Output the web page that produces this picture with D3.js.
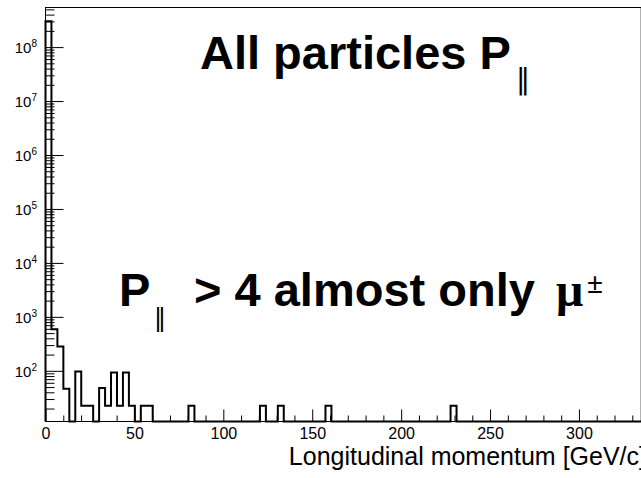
<!DOCTYPE html>
<html lang="en">
  <head>
    <meta charset="utf-8">
    <title>Longitudinal momentum</title>
    <style>
      body { margin: 0; background: #fff; }
      svg { display: block; font-family: "Liberation Sans", Arial, sans-serif; }
      .tick line { stroke: #000; }
    </style>
  </head>
  <body>
    <script src="https://d3js.org/d3.v7.min.js"></script>
    <script type="text/javascript">

    // histogram: 100 bins from 0 to 335 GeV/c
    const nBins = 100
    const xMin = 0
    const xMax = 335
    // bins that have entries (index) and their contents
    const filledBins = [0, 1, 2, 3, 5, 6, 7, 9, 10, 11, 12, 13, 14, 16, 17, 24, 36, 39, 47, 68]
    const binContent = [3.0e8, 590, 282, 46.5, 97, 22.5, 22.5, 47.8, 22.5, 93, 22.5, 93, 22.5, 22.5, 22.5, 22.5, 22.5, 22.5, 22.5, 22.5]

    const yMin = 11.5
    const yMax = 5.42e8
    const yDecades = [2, 3, 4, 5, 6, 7, 8]
    const xTicks = [0, 50, 100, 150, 200, 250, 300]

    const w = 641
    const h = 478
    const padL = 45.5
    const padR = 641.2
    const padT = 7.5
    const padB = 421.5

    const xScale = d3.scaleLinear().domain([xMin, xMax]).range([padL, padR])
    const yScale = d3.scaleLog().domain([yMin, yMax]).range([padB, padT])

    const svg = d3.select("body").append("svg")
      .attr("width", w)
      .attr("height", h)

    // all bins, empty ones sit on the floor
    const binW = (xMax - xMin) / nBins
    const bins = d3.range(nBins).map(i => {
      const k = filledBins.indexOf(i)
      return { x: xMin + i * binW, v: k >= 0 ? binContent[k] : 0 }
    })
    const pts = [{ x: xMin, v: 0 }].concat(bins, [{ x: xMax, v: 0 }])

    const line = d3.line()
      .x(d => xScale(d.x))
      .y(d => d.v > 0 ? yScale(d.v) : padB)
      .curve(d3.curveStepAfter)

    // y minor ticks (2..9 x 10^n)
    const yMinor = yScale.ticks().filter(v => Math.abs(Math.log10(v) - Math.round(Math.log10(v))) > 1e-6)
    svg.append("g")
      .attr("transform", `translate(${padL},0)`)
      .call(d3.axisLeft(yScale).tickValues(yMinor).tickSize(-9).tickFormat(""))
      .call(g => g.select(".domain").remove())

    svg.append("g")
      .attr("transform", `translate(${padL},0)`)
      .call(d3.axisLeft(yScale).tickValues(yDecades.map(d => Math.pow(10, d))).tickSize(-18).tickFormat(""))
      .call(g => g.select(".domain").remove())

    // x ticks
    const xMinor = xScale.ticks(34).filter(v => v % 50 !== 0)
    svg.append("g")
      .attr("transform", `translate(0,${padB})`)
      .call(d3.axisBottom(xScale).tickValues(xMinor).tickSize(-6).tickFormat(""))
      .call(g => g.select(".domain").remove())

    svg.append("g")
      .attr("transform", `translate(0,${padB})`)
      .call(d3.axisBottom(xScale).tickValues(xTicks).tickSizeInner(-12).tickSizeOuter(0).tickPadding(6))
      .call(g => g.select(".domain").remove())
      .call(g => g.selectAll("text")
        .attr("fill", "#000")
        .style("font-family", '"Liberation Sans", Arial, sans-serif')
        .style("font-size", "16px"))

    // y labels 10^n
    const yLab = svg.append("g")
      .selectAll("text")
      .data(yDecades)
      .enter().append("text")
      .attr("x", 37)
      .attr("y", d => yScale(Math.pow(10, d)) + 6.3)
      .attr("text-anchor", "end")
      .style("font-size", "15px")
    yLab.append("tspan").text("10")
    yLab.append("tspan").attr("dy", -6).style("font-size", "10px").text(d => d)

    // frame
    svg.append("rect")
      .attr("x", padL)
      .attr("y", padT)
      .attr("width", padR - padL)
      .attr("height", padB - padT)
      .attr("fill", "none")
      .attr("stroke", "#000")
      .attr("stroke-width", 1)

    // histogram outline
    svg.append("path")
      .datum(pts)
      .attr("d", line)
      .attr("fill", "none")
      .attr("stroke", "#000")
      .attr("stroke-width", 2)

    // axis title
    svg.append("text")
      .attr("x", 646)
      .attr("y", 465)
      .attr("text-anchor", "end")
      .style("font-size", "25px")
      .text("Longitudinal momentum [GeV/c]")

    // annotations
    svg.append("text")
      .attr("x", 200).attr("y", 69)
      .style("font-size", "47px").style("font-weight", "bold")
      .text("All particles P")
    svg.append("text")
      .attr("x", 516).attr("y", 89)
      .style("font-family", '"DejaVu Sans", sans-serif')
      .style("font-size", "28px")
      .text("\u2016")

    svg.append("text")
      .attr("x", 119).attr("y", 306)
      .style("font-size", "47px").style("font-weight", "bold")
      .text("P")
    svg.append("text")
      .attr("x", 154).attr("y", 326)
      .style("font-family", '"DejaVu Sans", sans-serif')
      .style("font-size", "24px")
      .text("\u2016")
    svg.append("text")
      .attr("x", 194).attr("y", 306)
      .style("font-size", "47px").style("font-weight", "bold")
      .text("> 4 almost only")
    svg.append("text")
      .attr("x", 556).attr("y", 306)
      .style("font-family", '"Liberation Serif", serif')
      .style("font-weight", "bold")
      .style("font-size", "48px")
      .text("\u03bc")
    svg.append("text")
      .attr("x", 587).attr("y", 293)
      .style("font-family", '"Liberation Serif", serif')
      .style("font-weight", "bold")
      .style("font-size", "29px")
      .text("\u00b1")

    </script>
  </body>
</html>
